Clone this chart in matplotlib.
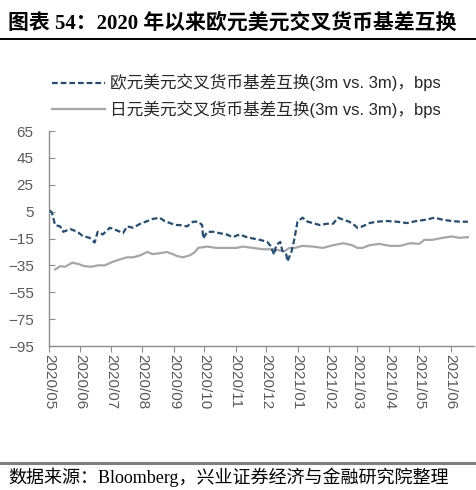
import matplotlib
matplotlib.use("Agg")
import matplotlib.pyplot as plt
import matplotlib.dates as mdates
from matplotlib.lines import Line2D
import pandas as pd

# ---- data ----
eur_dates = ["2020-05-02", "2020-05-04", "2020-05-07", "2020-05-12", "2020-05-15", "2020-05-22",
             "2020-05-29", "2020-06-03", "2020-06-10", "2020-06-15", "2020-06-18", "2020-06-23",
             "2020-06-30", "2020-07-07", "2020-07-13", "2020-07-17", "2020-07-23", "2020-07-30",
             "2020-08-06", "2020-08-11", "2020-08-18", "2020-08-23", "2020-08-30", "2020-09-04",
             "2020-09-07", "2020-09-14", "2020-09-20", "2020-09-25", "2020-09-29", "2020-09-30",
             "2020-10-04", "2020-10-10", "2020-10-16", "2020-10-23", "2020-10-29", "2020-11-05",
             "2020-11-12", "2020-11-18", "2020-11-25", "2020-12-02", "2020-12-05", "2020-12-09",
             "2020-12-11", "2020-12-15", "2020-12-17", "2020-12-21", "2020-12-22", "2020-12-26",
             "2020-12-29", "2021-01-01", "2021-01-06", "2021-01-11", "2021-01-16", "2021-01-23",
             "2021-01-30", "2021-02-05", "2021-02-10", "2021-02-15", "2021-02-21", "2021-02-26",
             "2021-03-01", "2021-03-06", "2021-03-13", "2021-03-20", "2021-03-30", "2021-04-09",
             "2021-04-19", "2021-04-28", "2021-05-08", "2021-05-16", "2021-05-24", "2021-06-02",
             "2021-06-10", "2021-06-18"]
eur_values = [6, 4, -5, -6, -10, -8,
              -10, -13, -14.5, -18, -10, -12,
              -7, -9, -11, -6, -7, -4,
              -2, -0.5, 0.5, -2, -4, -5,
              -5, -6, -2.5, -2.5, -5, -15,
              -10, -10, -11, -12, -14, -12,
              -14, -15, -16, -17.5, -20, -27,
              -20, -17.5, -24, -27, -32, -25,
              -15, -2.5, 0.5, -2.5, -3.5, -5,
              -4, -4, 0.5, -1, -2.5, -5,
              -7, -6, -3.5, -2.5, -2, -2.5,
              -3.5, -2, -1, 0.5, -1, -2,
              -2.5, -2.5]

jpy_dates = ["2020-05-07", "2020-05-12", "2020-05-17", "2020-05-24", "2020-05-30", "2020-06-05",
             "2020-06-12", "2020-06-18", "2020-06-25", "2020-07-02", "2020-07-08", "2020-07-17",
             "2020-07-23", "2020-07-30", "2020-08-06", "2020-08-11", "2020-08-18", "2020-08-25",
             "2020-08-31", "2020-09-04", "2020-09-10", "2020-09-17", "2020-09-22", "2020-09-25",
             "2020-10-04", "2020-10-13", "2020-10-23", "2020-11-02", "2020-11-08", "2020-11-18",
             "2020-11-28", "2020-12-08", "2020-12-15", "2020-12-19", "2020-12-24", "2020-12-29",
             "2021-01-06", "2021-01-16", "2021-01-26", "2021-02-05", "2021-02-15", "2021-02-24",
             "2021-03-01", "2021-03-06", "2021-03-13", "2021-03-23", "2021-04-02", "2021-04-12",
             "2021-04-22", "2021-05-01", "2021-05-06", "2021-05-14", "2021-05-24", "2021-06-02",
             "2021-06-10", "2021-06-18"]
jpy_values = [-38, -35.6, -36, -33, -34, -35.6,
              -36, -35, -35, -32.6, -31, -29,
              -29, -27.5, -25, -26.6, -26, -25,
              -26.6, -28, -29, -27.5, -25, -22,
              -21, -22, -22, -22, -21, -22,
              -23, -23, -24, -24.5, -22, -22,
              -20.5, -21, -22, -20, -18.5, -20,
              -22, -22, -20, -19, -20.5, -20.5,
              -18.5, -19, -16, -16, -14.5, -13.5,
              -14.5, -14]

eur_label = "欧元美元交叉货币基差互换(3m vs. 3m)，bps"
jpy_label = "日元美元交叉货币基差互换(3m vs. 3m)，bps"
title_text = "图表 54：2020 年以来欧元美元交叉货币基差互换"
source_text = "数据来源：Bloomberg，兴业证券经济与金融研究院整理"
y_ticks = [-95, -75, -55, -35, -15, 5, 25, 45, 65]
x_start, x_end = "2020-05-01", "2021-06-24"

SANS = ["Liberation Sans", "Noto Sans CJK SC", "DejaVu Sans"]
SERIF = ["Liberation Serif", "Noto Sans CJK SC", "DejaVu Sans"]
TICK_COLOR = "#595959"
SPINE_COLOR = "#8c8c8c"

fig = plt.figure(figsize=(4.76, 4.90), dpi=100)
ax = fig.add_axes([49 / 476, 1 - 346 / 490, (474 - 49) / 476, (346 - 131) / 490])

ed = pd.to_datetime(eur_dates)
jd = pd.to_datetime(jpy_dates)
ax.plot(jd, jpy_values, color="#a6a6a6", lw=1.6, zorder=2)
ax.plot(ed, eur_values, color="#1f4e79", lw=1.6, ls=(0, (2.6, 1.3)), zorder=3)

ax.set_ylim(-95, 65)
ax.set_yticks(y_ticks)
ax.set_xlim(pd.Timestamp(x_start), pd.Timestamp(x_end))
ax.xaxis.set_major_locator(mdates.MonthLocator(bymonthday=1))
ax.xaxis.set_major_formatter(mdates.DateFormatter("%Y/%m"))

for s in ["top", "right"]:
    ax.spines[s].set_visible(False)
for s in ["left", "bottom"]:
    ax.spines[s].set_color(SPINE_COLOR)
    ax.spines[s].set_linewidth(1.0)

ax.tick_params(axis="y", direction="in", length=4, color=SPINE_COLOR, pad=11,
               labelsize=11, labelcolor=TICK_COLOR)
ax.tick_params(axis="x", direction="out", length=4, color=SPINE_COLOR, pad=2,
               labelsize=11, labelcolor=TICK_COLOR)
for lab in ax.get_yticklabels():
    lab.set_family(SANS)
for lab in ax.get_xticklabels():
    lab.set_family(SANS)
    lab.set_rotation(270)
    lab.set_ha("center")
    lab.set_va("top")

handles = [Line2D([], [], color="#1f4e79", lw=1.6, ls=(0, (2.6, 1.3))),
           Line2D([], [], color="#a6a6a6", lw=1.6)]
leg = fig.legend(handles, [eur_label, jpy_label], loc="upper left",
                 bbox_to_anchor=(52 / 476, 1 - 74 / 490), frameon=False,
                 prop={"family": SANS, "size": 12}, handlelength=3.2,
                 handletextpad=0.25, labelspacing=0.55, borderaxespad=0, borderpad=0)
for t in leg.get_texts():
    t.set_color("#262626")

fig.text(8 / 476, 1 - 24 / 490, title_text, family=SERIF, fontsize=15,
         fontweight="bold", va="center", ha="left", color="black")
fig.add_artist(Line2D([0, 1], [1 - 39 / 490, 1 - 39 / 490], transform=fig.transFigure,
                      color="black", lw=1.4))
fig.add_artist(Line2D([0, 1], [1 - 463 / 490, 1 - 463 / 490], transform=fig.transFigure,
                      color="#7f7f7f", lw=2.2))
fig.text(8 / 476, 1 - 477 / 490, source_text, family=SERIF, fontsize=13,
         va="center", ha="left", color="black")

fig.savefig("out.png", dpi=100)
